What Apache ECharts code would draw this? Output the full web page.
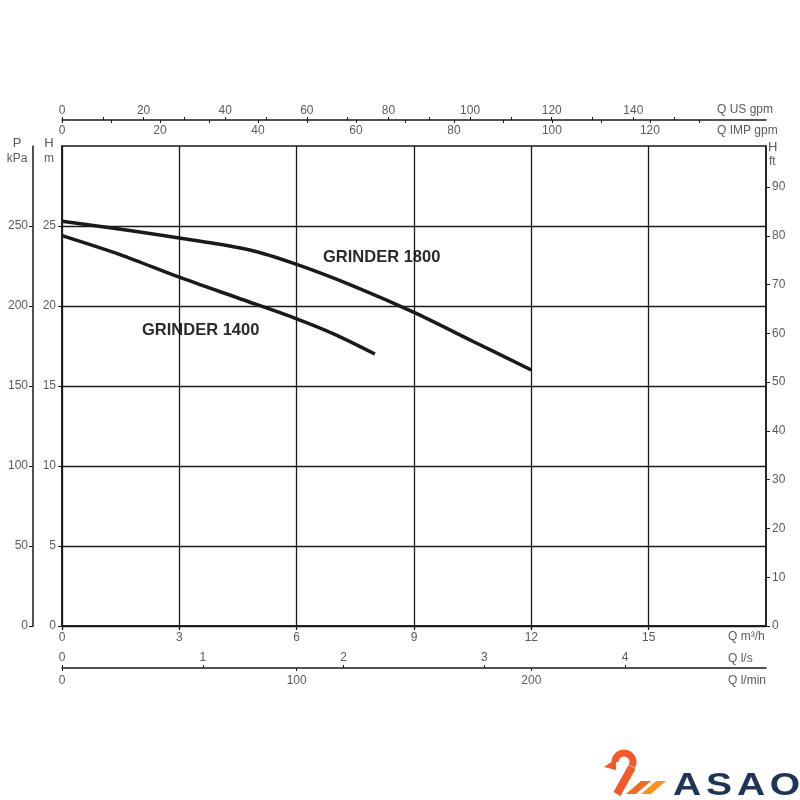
<!DOCTYPE html>
<html><head><meta charset="utf-8">
<script src="https://cdn.jsdelivr.net/npm/echarts@6/dist/echarts.min.js"></script>
<style>html,body{margin:0;padding:0;background:#fff}#c{width:800px;height:800px}</style>
</head><body><div id="c"></div>
<script>
// ---- data ----
const q1800 = [0, 1.5, 3, 4.8, 6, 7.5, 9, 10.5, 12];          // m3/h
const h1800 = [25.3, 24.8, 24.25, 23.5, 22.6, 21.2, 19.6, 17.8, 16.0]; // m
const q1400 = [0, 1.5, 3, 4.5, 6, 7, 8];
const h1400 = [24.4, 23.2, 21.8, 20.5, 19.2, 18.2, 17.0];
const seriesNames = ['GRINDER 1800', 'GRINDER 1400'];

const m3hLabels = [0, 3, 6, 9, 12, 15];
const lsLabels = [0, 1, 2, 3, 4];
const lminLabels = [0, 100, 200];
const usLabels = [0, 20, 40, 60, 80, 100, 120, 140];
const usTicks = [0, 10, 20, 30, 40, 50, 60, 70, 80, 90, 100, 110, 120, 130, 140, 150];
const impLabels = [0, 20, 40, 60, 80, 100, 120];
const impTicks = [0, 10, 20, 30, 40, 50, 60, 70, 80, 90, 100, 110, 120, 130];
const mLabels = [0, 5, 10, 15, 20, 25];
const kpaLabels = [0, 50, 100, 150, 200, 250];
const ftLabels = [0, 10, 20, 30, 40, 50, 60, 70, 80, 90];

const INK = '#1a1a1a';
const LBL = '#5a5a5a';
const FONT = 'Liberation Sans, Arial, sans-serif';
const lbl = (extra) => Object.assign({color: LBL, fontSize: 12, fontFamily: FONT}, extra);
const axLine = (show) => ({show: show, onZero: false, lineStyle: {color: INK, width: 1.5}});
const txt = (x, y, text, size, align, extra) => ({type: 'text', x: x, y: y,
  style: Object.assign({text: text, fill: LBL, font: size + 'px ' + FONT, align: align || 'left', verticalAlign: 'middle'}, extra || {})});
const logoLetter = (x, ch) => ({type: 'text', x: x, y: 786, scaleX: 1.22, originX: 0, originY: 0,
  style: {text: ch, fill: '#1d3557', font: 'bold 32px "Liberation Sans", Arial, sans-serif', align: 'center', verticalAlign: 'middle'}});

const chart = echarts.init(document.getElementById('c'), null, {renderer: 'canvas'});
const option = {
  backgroundColor: '#fff',
  animation: false,
  grid: {left: 62, right: 34, top: 146, bottom: 174, show: true, borderColor: INK, borderWidth: 1.5},
  xAxis: [
    {type: 'value', position: 'bottom', min: 0, max: 18, interval: 3,
     axisLine: axLine(true),
     axisTick: {show: true, length: 4, customValues: m3hLabels, lineStyle: {color: INK, width: 1.3}},
     axisLabel: lbl({customValues: m3hLabels, margin: 6}),
     splitLine: {show: true, lineStyle: {color: INK, width: 1.3}}},
    {type: 'value', position: 'bottom', offset: 42, min: 0, max: 5,
     axisLine: axLine(true),
     axisTick: {show: true, inside: true, length: 3, customValues: lsLabels, lineStyle: {color: INK}},
     axisLabel: lbl({inside: true, customValues: lsLabels, margin: 4}),
     splitLine: {show: false}},
    {type: 'value', position: 'bottom', offset: 42, min: 0, max: 300,
     axisLine: axLine(false),
     axisTick: {show: true, length: 3, customValues: lminLabels, lineStyle: {color: INK}},
     axisLabel: lbl({customValues: lminLabels, margin: 7}),
     splitLine: {show: false}},
    {type: 'value', position: 'top', offset: 26, min: 0, max: 172.5,
     axisLine: axLine(true),
     axisTick: {show: true, length: 3, customValues: usTicks, lineStyle: {color: INK}},
     axisLabel: lbl({customValues: usLabels, margin: 3}),
     splitLine: {show: false}},
    {type: 'value', position: 'top', offset: 26, min: 0, max: 143.7,
     axisLine: axLine(false),
     axisTick: {show: true, inside: true, length: 3, customValues: impTicks, lineStyle: {color: INK}},
     axisLabel: lbl({inside: true, customValues: impLabels, margin: 5}),
     splitLine: {show: false}}
  ],
  yAxis: [
    {type: 'value', position: 'left', min: 0, max: 30, interval: 5,
     axisLine: axLine(true),
     axisTick: {show: true, length: 4, customValues: mLabels, lineStyle: {color: INK}},
     axisLabel: lbl({customValues: mLabels, margin: 6}),
     splitLine: {show: true, lineStyle: {color: INK, width: 1.3}}},
    {type: 'value', position: 'left', offset: 29, min: 0, max: 300, interval: 50,
     axisLine: axLine(true),
     axisTick: {show: true, length: 4, customValues: kpaLabels, lineStyle: {color: INK}},
     axisLabel: lbl({customValues: kpaLabels, margin: 5}),
     splitLine: {show: false}},
    {type: 'value', position: 'right', min: 0, max: 30 * 3.28084,
     axisLine: axLine(true),
     axisTick: {show: true, length: 4, customValues: ftLabels, lineStyle: {color: INK}},
     axisLabel: lbl({customValues: ftLabels, margin: 6}),
     splitLine: {show: false}}
  ],
  series: [
    {name: seriesNames[0], type: 'line', xAxisIndex: 0, yAxisIndex: 0, smooth: 0.3, symbol: 'none',
     data: q1800.map((q, i) => [q, h1800[i]]), lineStyle: {color: INK, width: 3.5}, z: 5},
    {name: seriesNames[1], type: 'line', xAxisIndex: 0, yAxisIndex: 0, smooth: 0.3, symbol: 'none',
     data: q1400.map((q, i) => [q, h1400[i]]), lineStyle: {color: INK, width: 3.5}, z: 5}
  ],
  graphic: [
    txt(323, 257, seriesNames[0], 16, 'left', {fill: '#2a2a2a', font: 'bold 16.5px ' + FONT}),
    txt(142, 330, seriesNames[1], 16, 'left', {fill: '#2a2a2a', font: 'bold 16.5px ' + FONT}),
    // axis names
    txt(17, 143, 'P', 13, 'center'),
    txt(17, 159, 'kPa', 12, 'center'),
    txt(49, 143, 'H', 13, 'center'),
    txt(49, 159, 'm', 12, 'center'),
    txt(768, 147, 'H', 13, 'left'),
    txt(769, 162, 'ft', 12, 'left'),
    txt(717, 110, 'Q US gpm', 12, 'left'),
    txt(717, 131, 'Q IMP gpm', 12, 'left'),
    txt(728, 637, 'Q m³/h', 12, 'left'),
    txt(728, 659, 'Q l/s', 12, 'left'),
    txt(728, 681, 'Q l/min', 12, 'left'),
    // logo
    {type: 'arc', shape: {cx: 624, cy: 762, r: 9, startAngle: Math.PI, endAngle: Math.PI * 2 + 0.5, clockwise: true},
     style: {stroke: '#f15a29', lineWidth: 7, fill: null}},
    {type: 'polyline', shape: {points: [[632, 767], [617, 794]]}, style: {stroke: '#f15a29', lineWidth: 8}},
    {type: 'polygon', shape: {points: [[604, 767], [616, 759], [616, 770]]}, style: {fill: '#f15a29'}},
    {type: 'polygon', shape: {points: [[626, 794], [641, 781], [651, 781], [636, 794]]}, style: {fill: '#f26a25'}},
    {type: 'polygon', shape: {points: [[641, 794], [656, 781], [666, 781], [651, 794]]}, style: {fill: '#f7941d'}},
    logoLetter(687, 'A'),
    logoLetter(719, 'S'),
    logoLetter(751, 'A'),
    logoLetter(785, 'O')
  ]
};
chart.setOption(option);
</script>
</body></html>
